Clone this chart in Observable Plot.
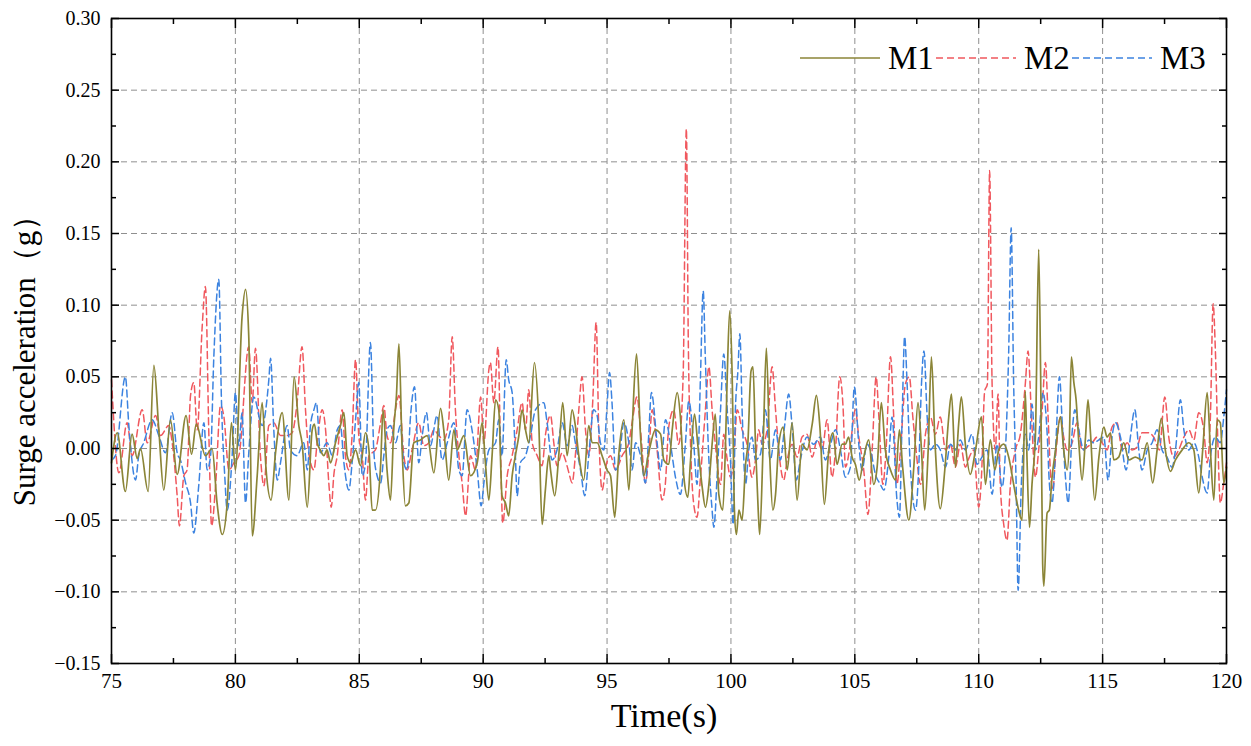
<!DOCTYPE html>
<html><head><meta charset="utf-8">
<script src="https://cdn.jsdelivr.net/npm/d3@7"></script>
<script src="https://cdn.jsdelivr.net/npm/@observablehq/plot@0.6"></script>
<style>
body{margin:0;background:#fff;}
#wrap{position:relative;width:1251px;height:746px;}
#wrap svg, #wrap svg text{font-family:'Liberation Serif','Times New Roman',serif !important;}
#legend{position:absolute;left:0;top:0;pointer-events:none;}
</style></head><body>
<div id="wrap"></div>
<script>
const xMajor = [75,80,85,90,95,100,105,110,115,120];
const xMinor = [77.5,82.5,87.5,92.5,97.5,102.5,107.5,112.5,117.5];
const yMajor = [-0.15,-0.10,-0.05,0.00,0.05,0.10,0.15,0.20,0.25,0.30];
const yMinor = [-0.125,-0.075,-0.025,0.025,0.075,0.125,0.175,0.225,0.275];
const seriesNames = ["M1","M2","M3"];
const seriesColors = ["#8B8537","#F0585E","#3C83E0"];
const seriesDash = [null,"7,4","7,4"];
const xTitle = "Time(s)";
const yTitle = "Surge acceleration（g）";

// [time (s), surge acceleration (g)]
const m1 = [[75.00,-0.010],[75.23,0.011],[75.56,-0.030],[75.83,0.010],[76.04,-0.007],[76.17,0.000],[76.48,-0.030],[76.71,0.058],[76.91,0.013],[77.11,-0.029],[77.38,0.020],[77.65,-0.018],[78.01,0.023],[78.23,-0.004],[78.42,0.017],[78.79,-0.005],[79.06,0.000],[79.26,-0.038],[79.47,-0.060],[79.67,-0.038],[79.84,0.018],[80.00,-0.015],[80.27,0.092],[80.41,0.111],[80.54,0.078],[80.68,-0.061],[80.88,-0.019],[81.08,0.032],[81.24,-0.015],[81.44,-0.036],[81.62,-0.003],[81.89,0.025],[82.16,-0.036],[82.37,0.050],[82.56,0.016],[82.69,0.004],[82.90,-0.041],[83.10,0.013],[83.19,0.017],[83.30,0.004],[83.43,-0.001],[83.57,-0.005],[83.70,-0.001],[83.84,-0.010],[84.04,0.004],[84.24,0.016],[84.38,0.025],[84.51,-0.005],[84.65,-0.010],[84.85,-0.001],[85.05,-0.012],[85.25,0.011],[85.39,-0.001],[85.52,-0.043],[85.65,-0.043],[85.86,-0.012],[85.96,0.027],[86.12,-0.015],[86.26,-0.036],[86.39,0.013],[86.50,0.037],[86.60,0.073],[86.73,-0.001],[86.86,-0.040],[87.00,-0.038],[87.20,0.004],[87.47,0.006],[87.74,0.009],[88.01,-0.017],[88.28,0.028],[88.41,0.013],[88.61,-0.022],[88.82,0.013],[88.95,-0.001],[89.22,0.009],[89.49,-0.019],[89.76,-0.010],[89.96,0.018],[90.09,-0.010],[90.23,-0.036],[90.36,-0.005],[90.50,0.034],[90.63,0.027],[90.76,-0.033],[90.90,-0.038],[91.03,-0.047],[91.17,-0.019],[91.30,-0.005],[91.44,0.009],[91.57,0.027],[91.71,0.013],[91.84,0.004],[92.07,0.060],[92.24,0.020],[92.38,-0.053],[92.51,-0.029],[92.65,-0.005],[92.72,-0.015],[92.89,-0.033],[93.05,-0.005],[93.21,0.032],[93.39,-0.005],[93.59,0.027],[93.72,0.016],[93.86,-0.005],[94.06,-0.022],[94.26,0.016],[94.40,0.004],[94.60,0.004],[94.80,-0.005],[95.00,-0.015],[95.14,-0.019],[95.31,-0.048],[95.47,-0.005],[95.68,0.020],[95.88,-0.029],[96.01,0.013],[96.19,0.066],[96.35,0.009],[96.48,-0.019],[96.68,-0.003],[96.95,0.013],[97.16,0.010],[97.29,-0.008],[97.49,-0.011],[97.63,0.013],[97.83,0.039],[97.96,0.022],[98.10,-0.020],[98.26,-0.034],[98.37,-0.008],[98.53,0.024],[98.66,0.003],[98.84,-0.027],[98.97,-0.041],[99.11,-0.025],[99.24,0.003],[99.37,0.024],[99.51,-0.032],[99.67,-0.043],[99.78,0.003],[99.85,0.050],[99.95,0.096],[100.05,0.050],[100.14,-0.043],[100.22,-0.060],[100.32,-0.043],[100.45,-0.050],[100.59,-0.011],[100.68,0.003],[100.81,0.054],[100.89,0.057],[100.99,0.003],[101.10,-0.043],[101.16,-0.060],[101.30,0.003],[101.43,0.070],[101.57,-0.008],[101.69,-0.043],[101.80,-0.032],[101.93,0.003],[102.11,0.015],[102.27,-0.015],[102.47,0.018],[102.67,-0.036],[102.87,0.003],[103.07,-0.001],[103.28,0.017],[103.45,0.037],[103.59,0.015],[103.77,-0.039],[103.95,-0.001],[104.12,0.011],[104.28,-0.011],[104.49,0.003],[104.62,0.003],[104.75,0.008],[104.89,-0.006],[105.02,-0.011],[105.18,-0.022],[105.36,-0.006],[105.56,0.006],[105.76,-0.025],[105.90,-0.013],[106.07,0.032],[106.23,-0.001],[106.44,-0.015],[106.64,-0.022],[106.80,0.013],[106.93,-0.013],[107.18,-0.050],[107.38,-0.013],[107.55,0.032],[107.69,-0.001],[107.82,-0.043],[107.96,-0.001],[108.09,0.064],[108.23,0.006],[108.45,-0.042],[108.63,-0.015],[108.79,0.022],[108.90,0.038],[109.06,-0.013],[109.19,0.017],[109.30,0.036],[109.46,0.003],[109.66,-0.018],[109.87,-0.001],[110.11,0.022],[110.27,-0.025],[110.47,0.006],[110.65,-0.015],[110.81,-0.001],[111.01,0.003],[111.21,-0.006],[111.41,-0.025],[111.61,-0.043],[111.75,-0.050],[111.88,0.040],[111.95,-0.008],[112.05,-0.055],[112.15,-0.025],[112.29,0.010],[112.42,0.139],[112.50,0.050],[112.58,-0.080],[112.63,-0.096],[112.76,-0.045],[112.85,-0.043],[112.96,-0.020],[113.10,-0.001],[113.30,0.022],[113.43,-0.001],[113.57,-0.015],[113.66,0.008],[113.74,0.064],[113.84,0.046],[113.93,0.034],[114.04,0.004],[114.17,-0.022],[114.31,0.008],[114.41,0.034],[114.51,0.011],[114.68,-0.036],[114.85,-0.006],[115.05,0.015],[115.18,0.008],[115.32,0.011],[115.45,-0.008],[115.65,-0.006],[115.85,0.004],[116.06,-0.008],[116.32,-0.006],[116.59,-0.008],[116.80,0.004],[117.02,-0.024],[117.20,-0.001],[117.37,0.021],[117.53,-0.001],[117.74,-0.016],[117.94,-0.008],[118.21,-0.001],[118.48,0.004],[118.68,-0.001],[118.88,-0.031],[119.04,-0.001],[119.22,0.039],[119.35,-0.001],[119.49,-0.036],[119.62,0.020],[119.75,0.018],[119.89,-0.024],[120.00,-0.013]];

const m2 = [[75.00,0.048],[75.30,-0.017],[75.63,0.018],[75.83,-0.005],[76.24,0.027],[76.44,0.004],[76.78,0.023],[76.98,0.009],[77.31,0.016],[77.45,0.004],[77.65,-0.033],[77.74,-0.054],[77.92,-0.019],[78.05,-0.015],[78.19,0.037],[78.32,0.046],[78.46,0.013],[78.66,0.085],[78.79,0.113],[78.93,0.009],[79.04,-0.054],[79.20,-0.026],[79.40,0.030],[79.53,0.023],[79.74,-0.015],[79.94,-0.010],[80.14,-0.005],[80.54,0.071],[80.68,0.032],[80.81,0.070],[81.01,-0.005],[81.15,-0.026],[81.35,0.016],[81.55,0.018],[81.82,0.009],[82.09,0.009],[82.29,0.011],[82.49,0.032],[82.69,0.071],[82.83,0.027],[82.96,-0.003],[83.17,-0.015],[83.30,0.004],[83.50,0.027],[83.64,0.013],[83.77,-0.024],[83.87,-0.041],[83.97,-0.019],[84.11,-0.005],[84.31,0.027],[84.44,-0.005],[84.58,-0.015],[84.71,0.009],[84.85,0.062],[84.98,0.009],[85.12,-0.005],[85.25,-0.036],[85.39,-0.005],[85.65,-0.001],[85.86,0.018],[85.99,0.030],[86.12,0.009],[86.26,0.004],[86.46,0.027],[86.60,0.037],[86.80,-0.005],[86.93,-0.015],[87.13,-0.001],[87.40,0.018],[87.60,0.002],[87.81,0.004],[88.01,0.013],[88.21,0.009],[88.41,0.006],[88.61,0.020],[88.75,0.078],[88.88,0.027],[89.02,-0.005],[89.15,-0.024],[89.29,-0.047],[89.49,-0.005],[89.69,-0.015],[89.90,0.036],[90.03,0.004],[90.23,0.055],[90.29,0.060],[90.43,0.032],[90.60,0.071],[90.70,-0.001],[90.79,-0.052],[90.97,-0.019],[91.17,-0.005],[91.37,0.013],[91.57,0.032],[91.71,0.013],[91.84,0.041],[91.98,0.004],[92.18,-0.005],[92.38,-0.012],[92.51,0.009],[92.72,0.023],[92.85,0.004],[92.98,-0.012],[93.19,-0.003],[93.32,-0.008],[93.46,-0.017],[93.59,-0.024],[93.72,-0.005],[93.86,0.027],[93.99,0.050],[94.13,0.013],[94.26,-0.005],[94.42,0.032],[94.56,0.088],[94.67,0.009],[94.80,-0.029],[94.96,-0.012],[95.14,-0.005],[95.34,-0.015],[95.61,-0.005],[95.88,0.004],[96.01,0.018],[96.21,0.036],[96.35,0.013],[96.55,-0.024],[96.68,-0.005],[96.82,0.027],[97.02,-0.001],[97.22,-0.036],[97.35,-0.025],[97.49,0.015],[97.69,0.027],[97.89,0.003],[98.07,0.050],[98.20,0.223],[98.28,0.073],[98.37,0.003],[98.50,-0.039],[98.63,-0.048],[98.77,-0.020],[98.97,0.027],[99.11,0.057],[99.24,0.027],[99.37,0.003],[99.58,-0.025],[99.71,0.010],[99.85,-0.008],[99.98,-0.020],[100.11,-0.008],[100.25,0.027],[100.45,0.013],[100.65,0.003],[100.85,-0.020],[100.99,-0.008],[101.12,0.013],[101.26,0.003],[101.46,0.013],[101.66,0.057],[101.80,0.027],[101.97,-0.008],[102.13,-0.022],[102.27,-0.008],[102.47,0.003],[102.67,-0.006],[102.87,0.008],[103.07,0.010],[103.28,-0.006],[103.48,0.006],[103.68,-0.001],[103.88,0.020],[104.08,-0.020],[104.22,-0.001],[104.39,0.050],[104.53,0.027],[104.62,-0.013],[104.82,0.003],[105.02,0.027],[105.16,0.008],[105.36,-0.015],[105.53,-0.046],[105.70,-0.001],[105.86,0.050],[105.97,0.022],[106.13,-0.025],[106.26,-0.001],[106.44,0.064],[106.57,0.022],[106.70,-0.025],[106.84,-0.001],[107.04,0.045],[107.20,0.050],[107.34,0.022],[107.47,-0.001],[107.65,-0.025],[107.85,0.010],[108.05,0.022],[108.25,0.010],[108.45,0.022],[108.66,-0.001],[108.86,0.003],[109.06,-0.013],[109.26,0.003],[109.46,-0.013],[109.62,-0.006],[109.80,-0.001],[110.00,-0.041],[110.11,-0.020],[110.24,0.040],[110.35,0.045],[110.44,0.194],[110.54,0.045],[110.67,-0.001],[110.78,0.038],[110.87,-0.025],[111.01,-0.053],[111.14,-0.064],[111.28,-0.025],[111.48,-0.001],[111.68,0.010],[111.88,0.045],[111.99,0.068],[112.13,0.022],[112.29,-0.020],[112.42,-0.001],[112.56,0.027],[112.69,0.060],[112.80,0.022],[112.89,-0.015],[112.99,-0.029],[113.10,-0.006],[113.30,0.022],[113.43,0.008],[113.57,-0.001],[113.77,0.004],[113.97,0.018],[114.17,-0.001],[114.37,0.001],[114.58,0.004],[114.78,0.008],[114.98,0.004],[115.18,-0.001],[115.38,0.015],[115.58,0.018],[115.79,-0.001],[115.99,0.004],[116.19,-0.001],[116.39,0.001],[116.59,0.011],[116.86,0.011],[117.06,0.008],[117.29,-0.001],[117.51,0.036],[117.67,0.008],[117.87,-0.006],[118.07,-0.001],[118.28,0.008],[118.48,0.013],[118.68,0.006],[118.88,0.025],[119.08,0.013],[119.22,-0.010],[119.35,0.022],[119.46,0.101],[119.55,0.069],[119.66,-0.001],[119.75,-0.038],[119.89,-0.024],[120.00,-0.010]];

const m3 = [[75.00,-0.008],[75.16,-0.005],[75.56,0.050],[75.70,0.016],[75.97,-0.022],[76.10,-0.005],[76.30,0.004],[76.64,0.020],[76.91,0.009],[77.18,-0.003],[77.45,0.025],[77.65,-0.003],[77.78,-0.008],[77.99,-0.024],[78.19,-0.038],[78.32,-0.059],[78.52,-0.026],[78.73,0.018],[78.86,-0.015],[79.00,-0.005],[79.13,0.064],[79.33,0.118],[79.44,0.032],[79.57,-0.019],[79.67,-0.043],[79.87,-0.005],[80.00,0.039],[80.14,0.002],[80.27,0.025],[80.41,-0.038],[80.54,-0.003],[80.74,0.036],[81.08,0.016],[81.35,0.048],[81.42,0.063],[81.55,0.013],[81.69,-0.022],[81.82,-0.010],[82.09,0.016],[82.22,-0.001],[82.49,-0.005],[82.76,0.004],[82.90,-0.015],[83.03,0.016],[83.17,0.027],[83.27,0.032],[83.43,-0.003],[83.70,0.004],[83.91,-0.005],[84.11,0.013],[84.24,0.016],[84.38,-0.010],[84.58,-0.029],[84.71,-0.010],[84.85,0.020],[84.98,0.046],[85.12,-0.019],[85.25,-0.010],[85.45,0.074],[85.59,-0.003],[85.72,-0.019],[85.86,-0.024],[85.99,-0.005],[86.12,0.013],[86.26,0.016],[86.46,0.004],[86.66,0.016],[86.80,-0.010],[86.93,-0.015],[87.07,0.023],[87.23,0.043],[87.40,-0.010],[87.54,0.009],[87.71,0.025],[87.87,0.002],[88.14,0.023],[88.34,-0.008],[88.55,0.004],[88.82,0.018],[89.02,-0.015],[89.15,-0.019],[89.35,0.027],[89.55,0.013],[89.76,-0.015],[89.92,-0.040],[90.03,-0.024],[90.23,-0.001],[90.50,0.004],[90.63,0.020],[90.76,-0.005],[90.93,0.062],[91.03,0.048],[91.17,0.039],[91.30,-0.005],[91.37,-0.033],[91.50,-0.010],[91.71,-0.005],[91.91,0.009],[92.11,0.027],[92.45,0.032],[92.58,0.018],[92.78,-0.008],[92.98,-0.001],[93.19,0.018],[93.39,0.002],[93.59,0.016],[93.72,0.004],[93.93,-0.015],[94.10,-0.033],[94.26,-0.005],[94.46,0.027],[94.60,0.023],[94.73,0.004],[94.87,-0.001],[95.00,0.030],[95.10,0.053],[95.20,0.032],[95.34,-0.015],[95.47,-0.010],[95.68,0.018],[95.88,0.004],[96.01,-0.015],[96.15,0.004],[96.35,-0.005],[96.55,-0.024],[96.68,0.009],[96.79,0.039],[97.02,0.004],[97.16,-0.015],[97.36,0.020],[97.56,0.003],[97.76,-0.020],[97.96,-0.032],[98.16,0.003],[98.30,0.033],[98.50,0.003],[98.63,-0.025],[98.77,0.050],[98.88,0.110],[98.97,0.061],[99.11,-0.008],[99.24,-0.043],[99.31,-0.055],[99.44,-0.020],[99.58,0.027],[99.71,0.066],[99.85,0.027],[99.98,-0.008],[100.09,-0.053],[100.18,0.027],[100.28,0.054],[100.36,0.080],[100.45,0.027],[100.59,-0.025],[100.72,-0.001],[100.85,0.008],[100.99,-0.008],[101.19,-0.004],[101.39,0.027],[101.59,-0.008],[101.80,0.013],[102.00,-0.008],[102.16,0.015],[102.33,0.038],[102.47,0.015],[102.64,-0.022],[102.80,-0.008],[103.07,0.008],[103.34,0.003],[103.61,0.008],[103.81,-0.008],[104.02,0.003],[104.22,0.013],[104.42,-0.001],[104.62,-0.020],[104.82,-0.013],[104.98,0.043],[105.16,0.003],[105.29,-0.015],[105.49,0.003],[105.63,-0.001],[105.83,-0.018],[106.03,-0.025],[106.17,-0.029],[106.37,-0.006],[106.50,0.022],[106.70,-0.036],[106.80,-0.048],[106.91,0.022],[107.01,0.078],[107.11,0.045],[107.24,-0.013],[107.45,-0.043],[107.58,-0.013],[107.69,0.045],[107.79,0.068],[107.92,0.022],[108.05,-0.001],[108.25,0.003],[108.45,-0.001],[108.66,-0.013],[108.86,0.003],[109.06,-0.001],[109.26,0.006],[109.46,-0.001],[109.73,0.010],[109.93,-0.011],[110.13,-0.006],[110.34,-0.001],[110.54,-0.032],[110.74,0.003],[110.94,-0.027],[111.08,-0.001],[111.21,0.068],[111.31,0.154],[111.41,0.045],[111.51,-0.025],[111.59,-0.099],[111.72,-0.025],[111.88,0.010],[112.02,-0.001],[112.15,0.031],[112.29,-0.001],[112.42,0.008],[112.59,0.039],[112.76,0.011],[112.85,-0.024],[112.96,-0.038],[113.10,-0.001],[113.26,0.050],[113.37,0.018],[113.50,-0.020],[113.61,-0.038],[113.77,0.011],[113.88,0.027],[114.04,0.013],[114.24,-0.001],[114.44,0.006],[114.64,0.004],[114.85,0.006],[115.05,0.008],[115.22,-0.022],[115.38,0.008],[115.52,0.018],[115.72,0.008],[115.95,-0.015],[116.12,0.008],[116.30,0.027],[116.46,-0.001],[116.59,-0.015],[116.80,-0.001],[117.00,0.004],[117.20,0.013],[117.40,-0.001],[117.60,-0.006],[117.80,-0.013],[117.94,-0.001],[118.14,0.034],[118.28,0.013],[118.48,-0.001],[118.68,0.004],[118.88,-0.006],[119.02,-0.020],[119.22,-0.031],[119.35,-0.006],[119.55,0.008],[119.75,0.004],[119.89,0.022],[120.00,0.041]];

const seriesData = [m1, m2, m3];
const rows = seriesData.map(s => s.map(([t, v]) => ({t, v})));

const font = "'Liberation Serif','Times New Roman',serif";
const gridStyle = {stroke: "#8f8f8f", strokeOpacity: 1, strokeWidth: 1, strokeDasharray: "6,4"};
const tickStyle = {stroke: "#000", strokeWidth: 1.5, label: null, tickFormat: () => ""};

const lineMarks = [1, 2, 0].map(i => Plot.line(rows[i], {
  x: "t", y: "v", stroke: seriesColors[i], strokeWidth: i === 0 ? 1.7 : 1.5,
  strokeDasharray: seriesDash[i] || undefined, curve: "monotone-x"
}));

const chart = Plot.plot({
  width: 1251, height: 746,
  marginLeft: 111, marginRight: 25, marginTop: 18, marginBottom: 83,
  x: {domain: [75, 120], label: null},
  y: {domain: [-0.15, 0.30], label: null},
  style: {fontFamily: font, color: "#000", background: "#fff", overflow: "visible"},
  marks: [
    Plot.gridX(xMajor.slice(1, -1), gridStyle),
    Plot.gridY(yMajor.slice(1, -1), gridStyle),
    ...lineMarks,
    Plot.frame({stroke: "#000", strokeWidth: 1.6}),
    Plot.axisX(xMajor, {...tickStyle, anchor: "bottom", tickSize: -9}),
    Plot.axisX(xMinor, {...tickStyle, anchor: "bottom", tickSize: -5}),
    Plot.axisX(xMajor, {...tickStyle, anchor: "top", tickSize: -9}),
    Plot.axisX(xMinor, {...tickStyle, anchor: "top", tickSize: -5}),
    Plot.axisY(yMajor, {...tickStyle, anchor: "left", tickSize: -8}),
    Plot.axisY(yMinor, {...tickStyle, anchor: "left", tickSize: -5}),
    Plot.axisY(yMajor, {...tickStyle, anchor: "right", tickSize: -8}),
    Plot.axisY(yMinor, {...tickStyle, anchor: "right", tickSize: -5}),
    Plot.axisX(xMajor, {anchor: "bottom", tickSize: 0, tickPadding: 10, fontSize: 21, fontFamily: font, label: null, tickFormat: d => String(d)}),
    Plot.axisY(yMajor, {anchor: "left", tickSize: 0, tickPadding: 11, fontSize: 20, fontFamily: font, label: null, tickFormat: d3.format(".2f")}),
    Plot.text([xTitle], {text: d => d, frameAnchor: "bottom", lineAnchor: "middle", textAnchor: "middle", dy: 53, dx: -5, fontSize: 34, fontFamily: font, fill: "#000"}),
    Plot.text([yTitle], {text: d => d, frameAnchor: "left", lineAnchor: "middle", textAnchor: "middle", dx: -86, dy: 12, rotate: -90, fontSize: 31, fontFamily: font, fill: "#000"})
  ]
});

const wrap = document.getElementById("wrap");
wrap.appendChild(chart);

// Legend (inside plot, top-right)
const leg = d3.select(wrap).append("svg").attr("id", "legend")
  .attr("width", 1251).attr("height", 746);
const legX = [800, 936, 1072];
seriesNames.forEach((name, i) => {
  const x0 = legX[i];
  leg.append("line").attr("x1", x0).attr("x2", x0 + 80).attr("y1", 58).attr("y2", 58)
    .attr("stroke", seriesColors[i]).attr("stroke-width", 1.7)
    .attr("stroke-dasharray", seriesDash[i] || null);
  leg.append("text").attr("x", x0 + 88).attr("y", 69).text(name)
    .attr("font-family", font).attr("font-size", 33).attr("fill", "#000");
});
</script>
</body></html>
